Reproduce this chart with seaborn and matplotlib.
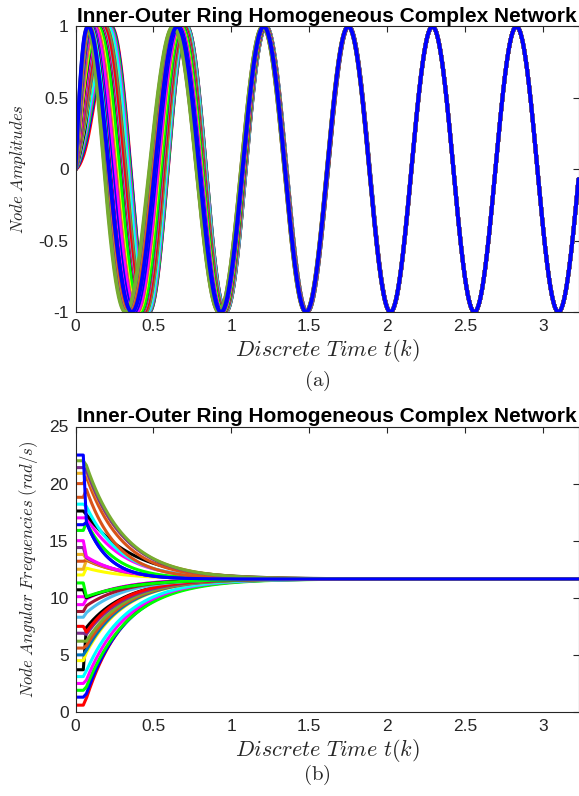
import numpy as np
import pandas as pd
import matplotlib
matplotlib.use("Agg")
import matplotlib.pyplot as plt
import seaborn as sns

sns.set_style("white")
plt.rcParams['font.family'] = ['Liberation Sans', 'DejaVu Sans']
plt.rcParams['mathtext.fontset'] = 'cm'
plt.rcParams['axes.unicode_minus'] = False

# ---------------- data ----------------
title = "Inner-Outer Ring Homogeneous Complex Network"
# initial angular frequency of each node (rad/s), top to bottom
w_init = [22.5, 22.0, 21.4, 20.9, 20.0, 18.8, 18.2, 17.6, 17.0, 16.4, 15.9, 15.0,
          14.4, 13.8, 13.2, 12.5, 12.0, 11.3, 10.7, 10.1, 9.4, 8.8, 8.3, 7.5,
          6.9, 6.2, 5.6, 5.0, 4.5, 3.7, 3.1, 2.5, 1.9, 1.3, 0.6]
# frequency just after the first coupling step (t ~ 0.07)
w_step = [16.6, 21.6, 21.2, 21.0, 20.6, 19.5, 18.0, 17.3, 17.0, 16.6, 16.6, 13.6,
          13.5, 13.4, 13.3, 13.3, 12.6, 10.1, 10.0, 10.0, 9.9, 9.3, 8.7, 7.0,
          6.8, 6.2, 5.8, 5.4, 5.2, 7.4, 3.6, 2.8, 2.2, 1.6, 1.2]
# convergence rate of each node (1/s)
rate = [7.0, 4.0, 4.0, 3.9, 4.3, 5.0, 4.5, 3.3, 4.2, 7.0, 5.5, 4.5,
        4.2, 4.0, 4.0, 4.0, 4.0, 3.2, 3.5, 3.8, 4.0, 4.0, 4.0, 4.2,
        4.0, 4.0, 4.0, 4.0, 4.0, 4.0, 3.8, 3.8, 3.6, 3.8, 4.0]
node_colors = ['#0000FF', '#77AC30', '#7E2F8E', '#EDB120', '#D95319', '#D95319',
               '#00FFFF', '#000000', '#FF00FF', '#0000FF', '#00FF00', '#FF00FF',
               '#7E2F8E', '#EDB120', '#D95319', '#EDB120', '#FFFF00', '#00FF00',
               '#000000', '#FF00FF', '#FF00FF', '#A2142F', '#4DBEEE', '#FF0000',
               '#7E2F8E', '#77AC30', '#D95319', '#0072BD', '#FFFF00', '#000000',
               '#00FFFF', '#FF00FF', '#00FF00', '#0000FF', '#FF0000']
w_sync = 11.65          # common (synchronised) angular frequency
phase_lock = 2.7        # phase-consensus rate (1/s)
t_hold, t_step = 0.05, 0.07
t_end = 3.23

xticks = [0, 0.5, 1, 1.5, 2, 2.5, 3]
xticklabels = ["0", "0.5", "1", "1.5", "2", "2.5", "3"]
yticks_a = [-1, -0.5, 0, 0.5, 1]
yticklabels_a = ["-1", "-0.5", "0", "0.5", "1"]
yticks_b = [0, 5, 10, 15, 20, 25]
yticklabels_b = ["0", "5", "10", "15", "20", "25"]

# ---------------- build the node trajectories ----------------
t = np.linspace(0, t_end, 3231)
freq_rows, amp_rows = [], []
for i in range(len(w_init)):
    w = np.where(t <= t_hold, w_init[i],
                 np.where(t <= t_step,
                          w_init[i] + (w_step[i] - w_init[i]) * (t - t_hold) / (t_step - t_hold),
                          w_sync + (w_step[i] - w_sync) * np.exp(-rate[i] * (t - t_step))))
    theta_own = np.concatenate([[0], np.cumsum(0.5 * (w[1:] + w[:-1]) * np.diff(t))])
    lock = np.exp(-phase_lock * t)
    theta = lock * theta_own + (1 - lock) * w_sync * t
    freq_rows.append(pd.DataFrame({"t": t, "v": w, "node": i}))
    amp_rows.append(pd.DataFrame({"t": t, "v": np.sin(theta), "node": i}))
freq_df = pd.concat(freq_rows, ignore_index=True)
amp_df = pd.concat(amp_rows, ignore_index=True)

order = list(range(len(w_init)))[::-1]   # blue node drawn last
palette = {i: node_colors[i] for i in range(len(w_init))}

# ---------------- figure ----------------
fig = plt.figure(figsize=(5.79, 7.96), dpi=100)
ax1 = fig.add_axes([75.5 / 579, 1 - 312 / 796, (578.5 - 75.5) / 579, (312 - 26.5) / 796])
ax2 = fig.add_axes([75.5 / 579, 1 - 712 / 796, (578.5 - 75.5) / 579, (712 - 426.5) / 796])

sns.lineplot(data=amp_df, x="t", y="v", hue="node", hue_order=order, palette=palette,
             estimator=None, sort=False, legend=False, linewidth=2.8, ax=ax1)
sns.lineplot(data=freq_df, x="t", y="v", hue="node", hue_order=order, palette=palette,
             estimator=None, sort=False, legend=False, linewidth=2.2, ax=ax2)

grey = '#262626'
for ax, yt, ytl, ylab, ylx in [(ax1, yticks_a, yticklabels_a, r'$Node\ Amplitudes$', -0.094),
                               (ax2, yticks_b, yticklabels_b,
                                r'$Node\ Angular\ Frequencies\ (rad/s)$', -0.071)]:
    ax.set_xlim(0, t_end)
    ax.set_ylim(yt[0], yt[-1])
    ax.set_xticks(xticks)
    ax.set_xticklabels(xticklabels)
    ax.set_yticks(yt)
    ax.set_yticklabels(ytl)
    ax.tick_params(direction='in', top=True, right=True, length=4, width=0.8,
                   colors=grey, labelsize=12.5)
    ax.tick_params(axis='x', pad=5)
    ax.tick_params(axis='y', pad=5)
    for s in ax.spines.values():
        s.set_color(grey)
        s.set_linewidth(0.8)
        s.set_visible(True)
    ax.set_title(title, fontsize=15, fontweight='bold', pad=3, color='black')
    ax.set_xlabel(r'$Discrete\ Time\ t(k)$', fontsize=16, color=grey, labelpad=2)
    ax.set_ylabel(ylab, fontsize=12, color=grey)
    ax.yaxis.set_label_coords(ylx, 0.5)

fig.text(317 / 579, 1 - 381 / 796, r'$\mathrm{(a)}$', ha='center', va='center', fontsize=15)
fig.text(317 / 579, 1 - 775 / 796, r'$\mathrm{(b)}$', ha='center', va='center', fontsize=15)

fig.savefig("out.png", dpi=100)
